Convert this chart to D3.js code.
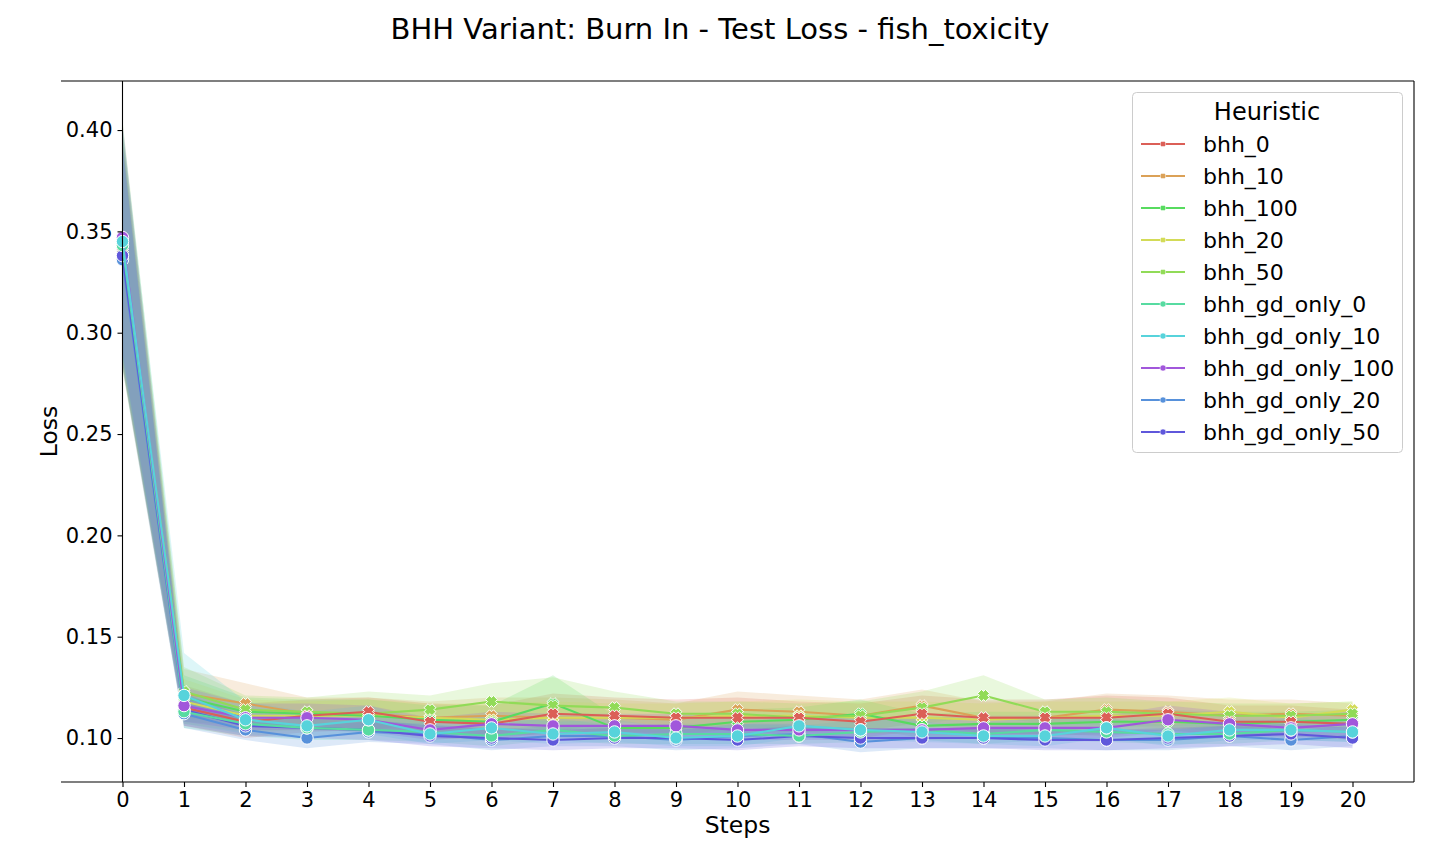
<!DOCTYPE html>
<html>
<head>
<meta charset="utf-8">
<script src="https://cdn.jsdelivr.net/npm/d3@7"></script>
<style>
  html, body { margin: 0; padding: 0; background: #ffffff; }
  svg { display: block; font-family: "DejaVu Sans", sans-serif; }
</style>
</head>
<body>
<svg id="chart" width="1440" height="864"></svg>
<script>
// ---------------- DATA ----------------
const steps = [0,1,2,3,4,5,6,7,8,9,10,11,12,13,14,15,16,17,18,19,20];
const seriesNames = ["bhh_0","bhh_10","bhh_100","bhh_20","bhh_50","bhh_gd_only_0","bhh_gd_only_10","bhh_gd_only_100","bhh_gd_only_20","bhh_gd_only_50"];
const seriesColors = ["#db5f57","#dba157","#57db5f","#d3db57","#91db57","#57dba1","#57d3db","#a157db","#5791db","#5f57db"];
const seriesMarkers = ["X","X","X","X","X","o","o","o","o","o"];
const drawOrder = [1,3,2,4,0,8,9,5,7,6];
const yTickValues = [0.10,0.15,0.20,0.25,0.30,0.35,0.40];
const xTickValues = steps;

const meanBhh0   = [0.340,0.115,0.108,0.111,0.113,0.108,0.107,0.112,0.111,0.110,0.110,0.110,0.108,0.112,0.110,0.110,0.110,0.112,0.108,0.108,0.107];
const lowBhh0    = [0.285,0.106,0.100,0.103,0.104,0.100,0.099,0.103,0.103,0.102,0.101,0.102,0.100,0.104,0.102,0.102,0.101,0.104,0.101,0.101,0.099];
const highBhh0   = [0.398,0.126,0.117,0.119,0.120,0.117,0.116,0.122,0.120,0.119,0.120,0.118,0.117,0.121,0.119,0.119,0.121,0.120,0.116,0.116,0.114];

const meanBhh10  = [0.341,0.122,0.117,0.112,0.112,0.110,0.111,0.110,0.110,0.109,0.114,0.113,0.111,0.116,0.110,0.110,0.114,0.113,0.111,0.112,0.111];
const lowBhh10   = [0.284,0.110,0.108,0.104,0.104,0.102,0.102,0.101,0.102,0.101,0.105,0.104,0.103,0.108,0.102,0.102,0.106,0.105,0.103,0.105,0.105];
const highBhh10  = [0.400,0.134,0.127,0.120,0.120,0.118,0.120,0.120,0.119,0.117,0.123,0.121,0.119,0.124,0.118,0.118,0.122,0.121,0.119,0.119,0.117];

const meanBhh100 = [0.342,0.120,0.113,0.112,0.111,0.109,0.108,0.117,0.105,0.105,0.108,0.109,0.112,0.106,0.107,0.107,0.108,0.108,0.107,0.108,0.109];
const lowBhh100  = [0.283,0.108,0.106,0.105,0.103,0.102,0.101,0.104,0.100,0.099,0.102,0.103,0.105,0.100,0.101,0.101,0.102,0.102,0.101,0.103,0.104];
const highBhh100 = [0.402,0.131,0.120,0.119,0.119,0.116,0.116,0.131,0.111,0.111,0.114,0.115,0.119,0.112,0.113,0.113,0.114,0.114,0.113,0.113,0.114];

const meanBhh20  = [0.339,0.118,0.111,0.111,0.111,0.110,0.109,0.110,0.110,0.110,0.111,0.111,0.110,0.110,0.109,0.110,0.111,0.111,0.113,0.110,0.114];
const lowBhh20   = [0.282,0.107,0.103,0.104,0.103,0.103,0.101,0.102,0.103,0.103,0.104,0.103,0.102,0.102,0.101,0.102,0.104,0.104,0.106,0.103,0.109];
const highBhh20  = [0.396,0.129,0.119,0.118,0.119,0.117,0.117,0.118,0.117,0.117,0.118,0.119,0.118,0.118,0.117,0.118,0.118,0.118,0.120,0.117,0.118];

const meanBhh50  = [0.340,0.123,0.114,0.113,0.112,0.114,0.118,0.116,0.115,0.112,0.112,0.110,0.111,0.115,0.121,0.113,0.113,0.112,0.111,0.111,0.112];
const lowBhh50   = [0.283,0.112,0.107,0.106,0.104,0.107,0.110,0.103,0.108,0.106,0.106,0.103,0.104,0.107,0.111,0.107,0.106,0.106,0.105,0.105,0.106];
const highBhh50  = [0.405,0.135,0.121,0.120,0.123,0.121,0.127,0.130,0.123,0.118,0.118,0.117,0.118,0.123,0.131,0.119,0.120,0.118,0.117,0.117,0.118];

const meanGd0    = [0.343,0.113,0.107,0.105,0.104,0.103,0.101,0.104,0.101,0.102,0.102,0.101,0.103,0.104,0.102,0.104,0.103,0.102,0.102,0.104,0.103];
const lowGd0     = [0.287,0.105,0.101,0.099,0.099,0.098,0.096,0.099,0.097,0.097,0.097,0.097,0.098,0.099,0.097,0.099,0.098,0.097,0.097,0.099,0.098];
const highGd0    = [0.399,0.123,0.114,0.112,0.110,0.109,0.107,0.110,0.106,0.107,0.107,0.106,0.109,0.110,0.108,0.110,0.109,0.108,0.107,0.110,0.108];

const meanGd10   = [0.345,0.121,0.109,0.106,0.109,0.102,0.105,0.102,0.103,0.100,0.101,0.106,0.104,0.103,0.101,0.101,0.105,0.101,0.104,0.104,0.103];
const lowGd10    = [0.288,0.107,0.102,0.100,0.102,0.097,0.099,0.097,0.098,0.096,0.096,0.100,0.099,0.098,0.097,0.096,0.100,0.096,0.099,0.099,0.098];
const highGd10   = [0.402,0.142,0.118,0.113,0.116,0.108,0.111,0.108,0.109,0.105,0.106,0.112,0.110,0.108,0.106,0.107,0.110,0.106,0.109,0.109,0.108];

const meanGd100  = [0.347,0.116,0.110,0.110,0.109,0.104,0.107,0.106,0.106,0.106,0.104,0.104,0.104,0.104,0.105,0.105,0.105,0.109,0.107,0.105,0.107];
const lowGd100   = [0.290,0.108,0.104,0.104,0.103,0.099,0.101,0.100,0.100,0.100,0.099,0.099,0.099,0.099,0.100,0.100,0.100,0.103,0.101,0.100,0.101];
const highGd100  = [0.404,0.125,0.117,0.117,0.116,0.110,0.113,0.112,0.112,0.112,0.110,0.110,0.110,0.110,0.111,0.111,0.111,0.116,0.113,0.111,0.113];

const meanGd20   = [0.336,0.112,0.104,0.100,0.103,0.102,0.099,0.101,0.101,0.099,0.101,0.102,0.098,0.100,0.100,0.100,0.099,0.099,0.101,0.099,0.101];
const lowGd20    = [0.282,0.105,0.099,0.095,0.098,0.097,0.094,0.096,0.096,0.094,0.095,0.097,0.093,0.095,0.095,0.095,0.094,0.094,0.096,0.094,0.096];
const highGd20   = [0.392,0.120,0.109,0.106,0.108,0.107,0.104,0.106,0.106,0.104,0.107,0.107,0.103,0.105,0.105,0.105,0.104,0.104,0.106,0.104,0.106];

const meanGd50   = [0.338,0.114,0.106,0.105,0.104,0.101,0.100,0.099,0.100,0.100,0.099,0.101,0.100,0.100,0.100,0.099,0.099,0.100,0.101,0.102,0.100];
const lowGd50    = [0.284,0.106,0.101,0.100,0.099,0.096,0.095,0.094,0.095,0.095,0.094,0.096,0.095,0.095,0.095,0.094,0.094,0.095,0.096,0.097,0.095];
const highGd50   = [0.394,0.122,0.111,0.110,0.109,0.106,0.105,0.104,0.105,0.105,0.104,0.106,0.105,0.105,0.105,0.104,0.104,0.105,0.106,0.107,0.105];

const means = [meanBhh0, meanBhh10, meanBhh100, meanBhh20, meanBhh50, meanGd0, meanGd10, meanGd100, meanGd20, meanGd50];
const lows  = [lowBhh0, lowBhh10, lowBhh100, lowBhh20, lowBhh50, lowGd0, lowGd10, lowGd100, lowGd20, lowGd50];
const highs = [highBhh0, highBhh10, highBhh100, highBhh20, highBhh50, highGd0, highGd10, highGd100, highGd20, highGd50];

// ---------------- LAYOUT ----------------
const W = 1440, H = 864;
const axL = 61, axR = 1414, axT = 81, axB = 782;

const series = seriesNames.map((name, i) => ({
  name, color: seriesColors[i], marker: seriesMarkers[i],
  points: steps.map((s, j) => ({ x: s, y: means[i][j], lo: lows[i][j], hi: highs[i][j] }))
}));
const drawSeries = drawOrder.map(i => series[i]);

const svg = d3.select("#chart");
svg.append("rect").attr("width", W).attr("height", H).attr("fill", "#ffffff");

const x = d3.scaleLinear().domain([-1, 21]).range([axL, axR]);
const y = d3.scaleLinear().domain([0.0783, 0.4242]).range([axB, axT]);

// Title
svg.append("text")
  .attr("x", W / 2).attr("y", 39)
  .attr("text-anchor", "middle")
  .attr("font-size", 29).attr("fill", "#000")
  .text("BHH Variant: Burn In - Test Loss - fish_toxicity");

// Bands (drawn below all lines)
const area = d3.area().x(d => x(d.x)).y0(d => y(d.lo)).y1(d => y(d.hi));
const gBands = svg.append("g");
series.forEach(s => {
  gBands.append("path")
    .attr("d", area(s.points))
    .attr("fill", s.color)
    .attr("fill-opacity", 0.2)
    .attr("stroke", "none");
});

// X marker path (matplotlib-like filled X)
function xMarkerPath(cx, cy, u) {
  const pts = [[-1,-2],[-1,-1],[-2,-1],[-2,1],[-1,1],[-1,2],[1,2],[1,1],[2,1],[2,-1],[1,-1],[1,-2]];
  const c = Math.cos(Math.PI / 4), sn = Math.sin(Math.PI / 4);
  return "M" + pts.map(([px, py]) => {
    const rx = (px * c - py * sn) * u, ry = (px * sn + py * c) * u;
    return (cx + rx).toFixed(2) + "," + (cy + ry).toFixed(2);
  }).join("L") + "Z";
}

// Lines + markers
const line = d3.line().x(d => x(d.x)).y(d => y(d.y));
const gLines = svg.append("g");
drawSeries.forEach(s => {
  const g = gLines.append("g");
  g.append("path")
    .attr("d", line(s.points))
    .attr("fill", "none")
    .attr("stroke", s.color)
    .attr("stroke-width", 2.1)
    .attr("stroke-linejoin", "round");
  s.points.forEach(p => {
    if (s.marker === "o") {
      g.append("circle")
        .attr("cx", x(p.x)).attr("cy", y(p.y)).attr("r", 6.2)
        .attr("fill", s.color).attr("stroke", "#ffffff").attr("stroke-width", 1);
    } else {
      g.append("path")
        .attr("d", xMarkerPath(x(p.x), y(p.y), 2.8))
        .attr("fill", s.color).attr("stroke", "#ffffff").attr("stroke-width", 1);
    }
  });
});

// Spines: top, right
const spine = svg.append("g").attr("stroke", "#000").attr("stroke-width", 1.1).attr("fill", "none");
spine.append("line").attr("x1", axL).attr("x2", axR).attr("y1", axT).attr("y2", axT);
spine.append("line").attr("x1", axR).attr("x2", axR).attr("y1", axT).attr("y2", axB);

// Y axis at x = 0
const yAxis = d3.axisLeft(y).tickValues(yTickValues).tickFormat(d3.format(".2f")).tickSize(5).tickSizeOuter(0).tickPadding(5);
const gy = svg.append("g").attr("transform", `translate(${x(0)},0)`).call(yAxis);
gy.select(".domain").attr("d", `M0,${axT}V${axB}`).attr("stroke-width", 1.1);
gy.selectAll(".tick line").attr("stroke-width", 1.1);
gy.selectAll(".tick text").attr("font-size", 21).attr("font-family", "DejaVu Sans").attr("fill", "#000");

// X axis at bottom
const xAxis = d3.axisBottom(x).tickValues(xTickValues).tickFormat(d3.format("d")).tickSize(5).tickSizeOuter(0).tickPadding(5);
const gx = svg.append("g").attr("transform", `translate(0,${axB})`).call(xAxis);
gx.select(".domain").attr("d", `M${axL},0H${axR}`).attr("stroke-width", 1.1);
gx.selectAll(".tick line").attr("stroke-width", 1.1);
gx.selectAll(".tick text").attr("font-size", 21).attr("font-family", "DejaVu Sans").attr("fill", "#000");

// Axis labels
svg.append("text")
  .attr("x", (axL + axR) / 2).attr("y", 833)
  .attr("text-anchor", "middle").attr("font-size", 23.5).attr("fill", "#000")
  .text("Steps");
svg.append("text")
  .attr("transform", `translate(57,${(axT + axB) / 2}) rotate(-90)`)
  .attr("text-anchor", "middle").attr("font-size", 23.5).attr("fill", "#000")
  .text("Loss");

// Legend
const lg = svg.append("g");
lg.append("rect")
  .attr("x", 1132.5).attr("y", 92.5).attr("width", 270).attr("height", 360).attr("rx", 4)
  .attr("fill", "#ffffff").attr("fill-opacity", 0.8)
  .attr("stroke", "#cccccc").attr("stroke-width", 1);
lg.append("text")
  .attr("x", 1267).attr("y", 120)
  .attr("text-anchor", "middle").attr("font-size", 24).attr("fill", "#000")
  .text("Heuristic");
series.forEach((s, i) => {
  const cy = 144 + i * 32;
  lg.append("line").attr("x1", 1141).attr("x2", 1185).attr("y1", cy).attr("y2", cy)
    .attr("stroke", s.color).attr("stroke-width", 2.1);
  if (s.marker === "o") {
    lg.append("circle").attr("cx", 1163).attr("cy", cy).attr("r", 3)
      .attr("fill", s.color).attr("stroke", "#ffffff").attr("stroke-width", 0.5);
  } else {
    lg.append("path").attr("d", xMarkerPath(1163, cy, 1.4))
      .attr("fill", s.color).attr("stroke", "#ffffff").attr("stroke-width", 0.5);
  }
  lg.append("text").attr("x", 1203).attr("y", cy + 8)
    .attr("font-size", 22).attr("fill", "#000")
    .text(s.name);
});
</script>
</body>
</html>
